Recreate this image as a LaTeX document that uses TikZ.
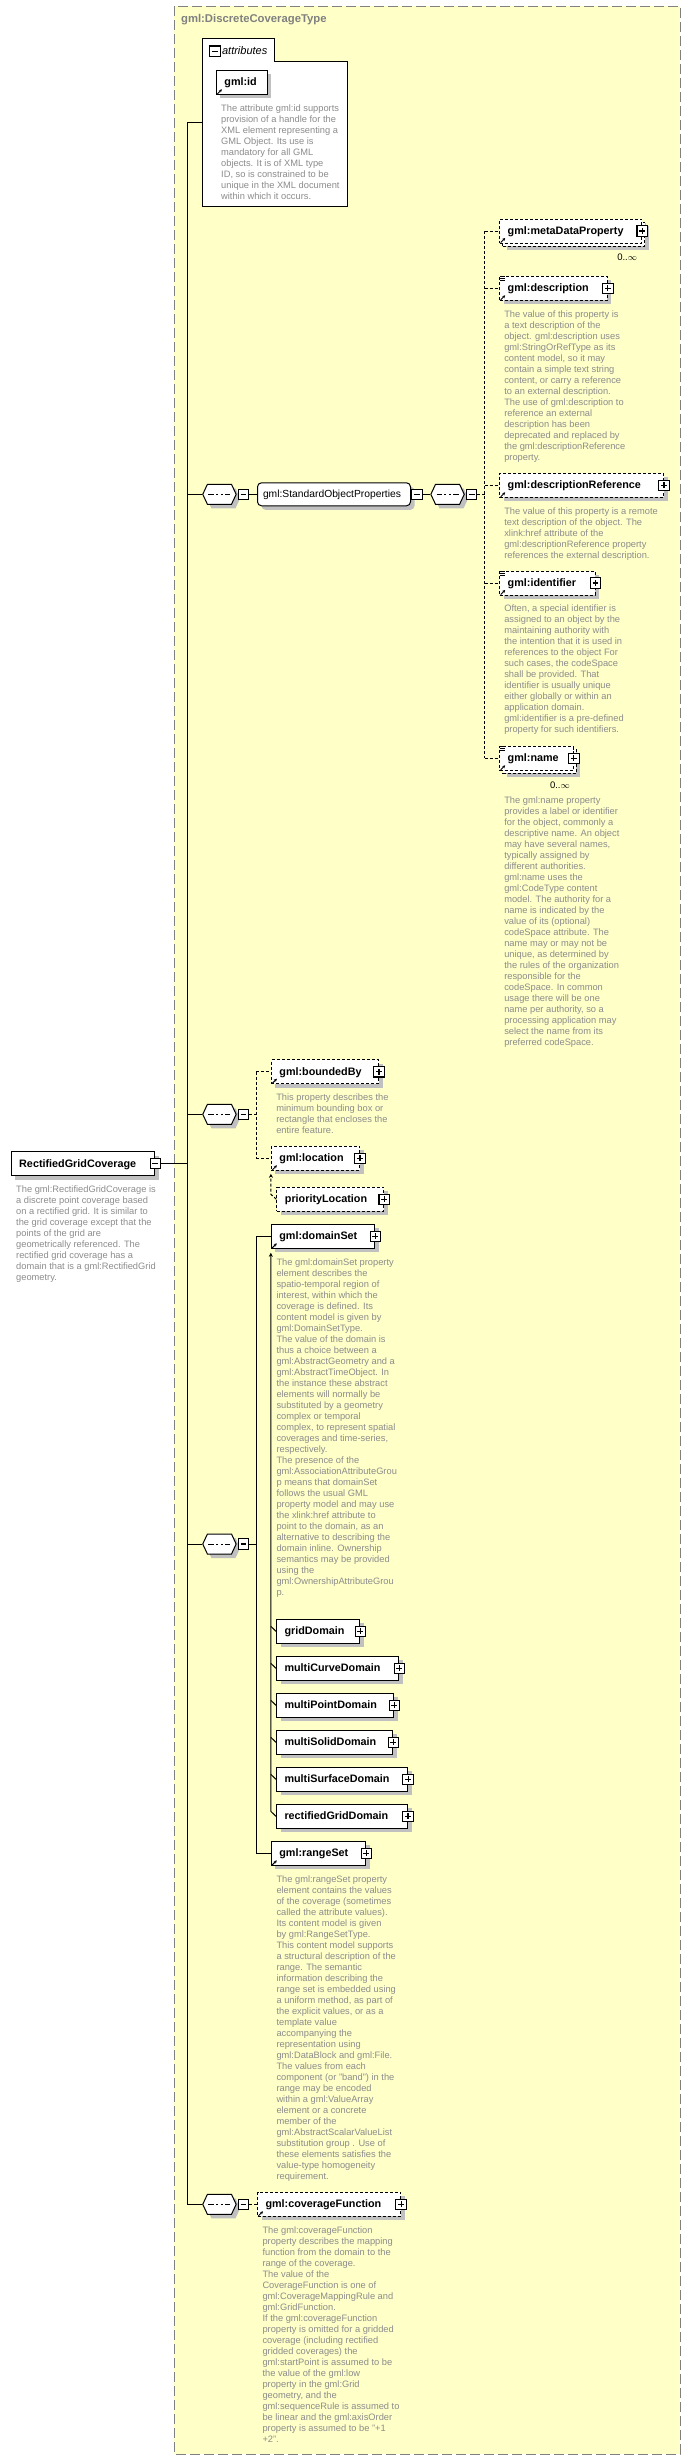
\documentclass[tikz,border=0pt]{standalone}
\usepackage{fontspec}
\setmainfont{Liberation Sans}
\usepackage{tikz}
\usetikzlibrary{arrows.meta,positioning,calc,shadows,shapes.symbols}
\definecolor{TypeYellow}{HTML}{FFFFC8}
\definecolor{FrameGray}{HTML}{808080}
\definecolor{ShadowGray}{HTML}{C0C0C0}
\definecolor{DocGray}{HTML}{8C8C8C}
\newcommand\elfont{\fontsize{10.8pt}{12pt}\selectfont\bfseries}
\newcommand\grpfont{\fontsize{10.3pt}{12pt}\selectfont}
\newcommand\docfont{\fontsize{9.3pt}{11pt}\selectfont}
\newcommand\titlefont{\fontsize{11.3pt}{13pt}\selectfont\bfseries}
% decorations put on an element after it is drawn
\newcommand\plusbox[1]{\node[pbox] (#1-p) at (#1.east) {};}
\newcommand\refarrow[1]{\draw[refmark] ([shift={(1.5pt,1pt)}]#1.south west) -- ++(4.5pt,4.5pt);}
\newcommand\linesicon[1]{\foreach \k in {1,3,5}
  {\draw[line width=0.8pt] ([shift={(1.2pt,-\k*1pt)}]#1.north west) -- ++(5pt,0pt);}}
\hyphenpenalty=10000
\exhyphenpenalty=10000

\begin{document}
\begin{tikzpicture}[
  x=1pt, y=-1pt, line width=1pt,
  boxshadow/.style={drop shadow={shadow xshift=4pt,shadow yshift=-4pt,opacity=1,fill=ShadowGray}},
  el/.style={boxshadow, draw, fill=white, anchor=west, minimum height=24pt,
    inner xsep=8pt, inner ysep=0pt, text height=8.5pt, text depth=1.3pt,
    align=left, font=\elfont},
  optional/.style={dash pattern=on 3pt off 2pt},
  multi/.style={drop shadow={shadow xshift=7pt,shadow yshift=-7pt,opacity=1,fill=ShadowGray},
    copy shadow={shadow xshift=3pt,shadow yshift=-3pt,draw=black,fill=white,dash pattern=on 3pt off 2pt}},
  refmark/.style={line width=0.9pt, -{Stealth[length=3pt,width=3pt]}},
  pm/.style={draw, fill=white, line width=1.1pt, minimum size=10.5pt, inner sep=0pt},
  pbox/.style={pm, path picture={\draw ([xshift=2.3pt]path picture bounding box.west) -- ([xshift=-2.3pt]path picture bounding box.east)
      ([yshift=-2.3pt]path picture bounding box.north) -- ([yshift=2.3pt]path picture bounding box.south);}},
  mbox/.style={pm, path picture={\draw ([xshift=2.3pt]path picture bounding box.west) -- ([xshift=-2.3pt]path picture bounding box.east);}},
  seq/.style={boxshadow, signal, signal to=east and west, signal pointer angle=130, draw, fill=white,
    minimum width=33.4pt, minimum height=20pt, inner sep=0pt, anchor=west,
    path picture={\draw ([xshift=-11pt]path picture bounding box.center) -- ([xshift=11pt]path picture bounding box.center);
      \foreach \d in {-4.5,0,4.5} \fill ([xshift=\d*1pt]path picture bounding box.center) +(-1.4pt,-1.4pt) rectangle +(1.4pt,1.4pt);}},
  grp/.style={boxshadow, draw, fill=white, rounded corners=4pt, anchor=west, minimum height=23pt,
    inner xsep=5.5pt, inner ysep=0pt, text height=8pt, text depth=2pt, align=left, font=\grpfont},
  doc/.style={anchor=north west, inner sep=0pt, align=left, font=\docfont, text=DocGray},
  occurs/.style={inner sep=0pt, font=\fontsize{9.5pt}{11pt}\selectfont},
  optline/.style={dash pattern=on 3pt off 2pt},
  subst/.style={-{Stealth[length=4pt,width=4pt]}}
]
  \useasboundingbox (0,0) rectangle (692,2460);

  % complex type frame
  \draw[FrameGray, fill=TypeYellow, dash pattern=on 10pt off 4pt] (174,6) rectangle (680,2454);
  \node[anchor=west, inner sep=0pt, font=\titlefont, text=FrameGray] (title) at (180.6,19.3) {gml:DiscreteCoverageType};

  % attributes
  \draw[fill=white] (202.2,38.3) -- (274.9,38.3) -- (274.9,61.3) -- (347.1,61.3) -- (347.1,206.3) -- (202.2,206.3) -- cycle;
  \node[mbox] (attr-m) at (214.8,51.2) {};
  \node[anchor=west, inner sep=0pt, font=\fontsize{11pt}{12pt}\selectfont\itshape] (attr-t) at (221.6,50.8) {attributes};
  \node[el, text width=35pt] (gid) at (215.9,82.3) {gml:id};
  \node[doc] (gid-doc) at ([shift={(4.8pt,-9.5pt)}]gid.south west) {The attribute gml:id supports\\provision of a handle for the\\XML element representing a\\GML Object. Its use is\\mandatory for all GML\\objects. It is of XML type\\ID, so is constrained to be\\unique in the XML document\\within which it occurs.};
  \coordinate (attrs) at (202.2,122.7);
  \coordinate (trunk) at (187.5,122.7);

  % the element itself
  \node[el, text width=127.6pt] (rgc) at (10.7,1163.5) {RectifiedGridCoverage};
  \node[mbox] (rgc-m) at (rgc.east) {};
  \node[doc] (rgc-doc) at ([shift={(5pt,-9.5pt)}]rgc.south west) {The gml:RectifiedGridCoverage is\\a discrete point coverage based\\on a rectified grid. It is similar to\\the grid coverage except that the\\points of the grid are\\geometrically referenced. The\\rectified grid coverage has a\\domain that is a gml:RectifiedGrid\\geometry.};

  % standard object properties
  \node[seq] (seq1) at (202.2,494.3) {};
  \node[mbox, anchor=west] (seq1-m) at ([xshift=1pt]seq1.east) {};
  \node[grp, text width=142pt] (sop) at (257,494.3) {gml:StandardObjectProperties};
  \node[mbox, anchor=west] (sop-m) at (sop.east) {};
  \node[seq] (seq2) at (430.3,494.3) {};
  \node[mbox, anchor=west] (seq2-m) at ([xshift=1pt]seq2.east) {};
  \coordinate (forkA) at (484.5,494.3);

  \node[el, optional, multi, text width=126pt] (mdp) at (499.2,231) {gml:metaDataProperty};
  \node[occurs] (mdp-o) at ([shift={(-15pt,-14pt)}]mdp.south east) {0..$\infty$};
  \node[el, optional, text width=91.6pt] (desc) at (499.2,288.3) {gml:description};
  \node[doc] (desc-doc) at ([shift={(4.6pt,-9pt)}]desc.south west) {The value of this property is\\a text description of the\\object. gml:description uses\\gml:StringOrRefType as its\\content model, so it may\\contain a simple text string\\content, or carry a reference\\to an external description.\\The use of gml:description to\\reference an external\\description has been\\deprecated and replaced by\\the gml:descriptionReference\\property.};
  \node[el, optional, text width=147.8pt] (dref) at (499.2,485.3) {gml:descriptionReference};
  \node[doc] (dref-doc) at ([shift={(4.6pt,-9pt)}]dref.south west) {The value of this property is a remote\\text description of the object. The\\xlink:href attribute of the\\gml:descriptionReference property\\references the external description.};
  \node[el, optional, text width=79.3pt] (ident) at (499.2,583) {gml:identifier};
  \node[doc] (ident-doc) at ([shift={(4.6pt,-9pt)}]ident.south west) {Often, a special identifier is\\assigned to an object by the\\maintaining authority with\\the intention that it is used in\\references to the object For\\such cases, the codeSpace\\shall be provided. That\\identifier is usually unique\\either globally or within an\\application domain.\\gml:identifier is a pre-defined\\property for such identifiers.};
  \node[el, optional, multi, text width=57.7pt] (name) at (499.2,758.3) {gml:name};
  \node[occurs] (name-o) at ([shift={(-14pt,-14pt)}]name.south east) {0..$\infty$};
  \node[doc] (name-doc) at ([shift={(4.6pt,-25.5pt)}]name.south west) {The gml:name property\\provides a label or identifier\\for the object, commonly a\\descriptive name. An object\\may have several names,\\typically assigned by\\different authorities.\\gml:name uses the\\gml:CodeType content\\model.  The authority for a\\name is indicated by the\\value of its (optional)\\codeSpace attribute.  The\\name may or may not be\\unique, as determined by\\the rules of the organization\\responsible for the\\codeSpace.  In common\\usage there will be one\\name per authority, so a\\processing application may\\select the name from its\\preferred codeSpace.};

  % bounds and location
  \node[seq] (seq3) at (202.2,1114.3) {};
  \node[mbox, anchor=west] (seq3-m) at ([xshift=1pt]seq3.east) {};
  \coordinate (forkB) at (256,1114.3);
  \node[el, optional, text width=91.1pt] (bby) at (270.9,1071.7) {gml:boundedBy};
  \node[doc] (bby-doc) at ([shift={(4.9pt,-9pt)}]bby.south west) {This property describes the\\minimum bounding box or\\rectangle that encloses the\\entire feature.};
  \node[el, optional, text width=72.1pt] (loc) at (270.9,1158.3) {gml:location};
  \node[el, optional, text width=90.8pt] (ploc) at (276.4,1199.3) {priorityLocation};

  % domain and range
  \node[seq] (seq4) at (202.2,1544) {};
  \node[mbox, anchor=west] (seq4-m) at ([xshift=1pt]seq4.east) {};
  \coordinate (forkC) at (256.3,1544);
  \node[el, text width=87.6pt] (dset) at (270.8,1236.3) {gml:domainSet};
  \node[doc] (dset-doc) at ([shift={(5.2pt,-9pt)}]dset.south west) {The gml:domainSet property\\element describes the\\spatio-temporal region of\\interest, within which the\\coverage is defined. Its\\content model is given by\\gml:DomainSetType.\\The value of the domain is\\thus a choice between a\\gml:AbstractGeometry and a\\gml:AbstractTimeObject.  In\\the instance these abstract\\elements will normally be\\substituted by a geometry\\complex or temporal\\complex, to represent spatial\\coverages and time-series,\\respectively.\\The presence of the\\gml:AssociationAttributeGrou\\p means that domainSet\\follows the usual GML\\property model and may use\\the xlink:href attribute to\\point to the domain, as an\\alternative to describing the\\domain inline. Ownership\\semantics may be provided\\using the\\gml:OwnershipAttributeGrou\\p.};
  \node[el, text width=67.3pt] (gd) at (276,1631.3) {gridDomain};
  \node[el, text width=106.3pt] (mcd) at (276,1668.3) {multiCurveDomain};
  \node[el, text width=101.4pt] (mpd) at (276,1705.3) {multiPointDomain};
  \node[el, text width=100.4pt] (msd) at (276,1742.3) {multiSolidDomain};
  \node[el, text width=115.1pt] (msfd) at (276,1779.3) {multiSurfaceDomain};
  \node[el, text width=115pt] (rgd) at (276,1816.3) {rectifiedGridDomain};
  \node[el, text width=78.5pt] (rset) at (270.8,1853.3) {gml:rangeSet};
  \node[doc] (rset-doc) at ([shift={(5.2pt,-9pt)}]rset.south west) {The gml:rangeSet property\\element contains the values\\of the coverage (sometimes\\called the attribute values).\\Its content model is given\\by gml:RangeSetType.\\This content model supports\\a structural description of the\\range.  The semantic\\information describing the\\range set is embedded using\\a uniform method, as part of\\the explicit values, or as a\\template value\\accompanying the\\representation using\\gml:DataBlock and gml:File.\\The values from each\\component (or "band") in the\\range may be encoded\\within a gml:ValueArray\\element or a concrete\\member of the\\gml:AbstractScalarValueList\\substitution group . Use of\\these elements satisfies the\\value-type homogeneity\\requirement.};

  % coverage function
  \node[seq] (seq5) at (202.2,2204.3) {};
  \node[mbox, anchor=west] (seq5-m) at ([xshift=1pt]seq5.east) {};
  \node[el, optional, text width=127.1pt] (cfun) at (257,2204.3) {gml:coverageFunction};
  \node[doc] (cfun-doc) at ([shift={(5pt,-9pt)}]cfun.south west) {The gml:coverageFunction\\property describes the mapping\\function from the domain to the\\range of the coverage.\\The value of the\\CoverageFunction is one of\\gml:CoverageMappingRule and\\gml:GridFunction.\\If the gml:coverageFunction\\property is omitted for a gridded\\coverage (including rectified\\gridded coverages) the\\gml:startPoint is assumed to be\\the value of the gml:low\\property in the gml:Grid\\geometry, and the\\gml:sequenceRule is assumed to\\be linear and the gml:axisOrder\\property is assumed to be "+1\\+2".};

  % connectors
  \draw (attrs) -- (trunk) |- (seq5.west);
  \draw (rgc-m.east) -- (trunk |- rgc-m.east);
  \foreach \s in {seq1,seq3,seq4}
    \draw (trunk |- \s.west) -- (\s.west);
  \draw (seq1-m.east) -- (sop.west);
  \draw (sop-m.east) -- (seq2.west);
  \draw[optline] (seq2-m.east) -- (forkA);
  \draw[optline] (forkA |- mdp.west) -- (forkA |- name.west);
  \foreach \n in {mdp,desc,dref,ident,name}
    \draw[optline] (forkA |- \n.west) -- (\n.west);
  \draw[optline] (seq3-m.east) -- (forkB);
  \draw[optline] (forkB |- bby.west) -- (forkB |- loc.west);
  \foreach \n in {bby,loc}
    \draw[optline] (forkB |- \n.west) -- (\n.west);
  \draw[optline, subst] (ploc.west) -- ++(-5.5pt,5pt) -- ([yshift=-3pt]loc.south west);
  \draw (seq4-m.east) -- (forkC);
  \draw (forkC |- dset.west) -- (forkC |- rset.west);
  \foreach \n in {dset,rset}
    \draw (forkC |- \n.west) -- (\n.west);
  \draw[subst] (rgd.west) -- ++(-5.2pt,5pt) -- ([yshift=-4pt]dset.south west);
  \foreach \n in {gd,mcd,mpd,msd,msfd}
    \draw (\n.west) -- ++(-5.2pt,5pt);
  \draw[optline] (seq5-m.east) -- (cfun.west);

  % expand boxes, reference arrows, content marks
  \foreach \n in {mdp,desc,dref,ident,name,bby,loc,ploc,dset,gd,mcd,mpd,msd,msfd,rgd,rset,cfun}
    {\plusbox{\n}}
  \foreach \n in {gid,mdp,desc,dref,ident,name,bby,loc,dset,rset,cfun}
    {\refarrow{\n}}
  \foreach \n in {desc,ident,name}
    {\linesicon{\n}}
\end{tikzpicture}
\end{document}
